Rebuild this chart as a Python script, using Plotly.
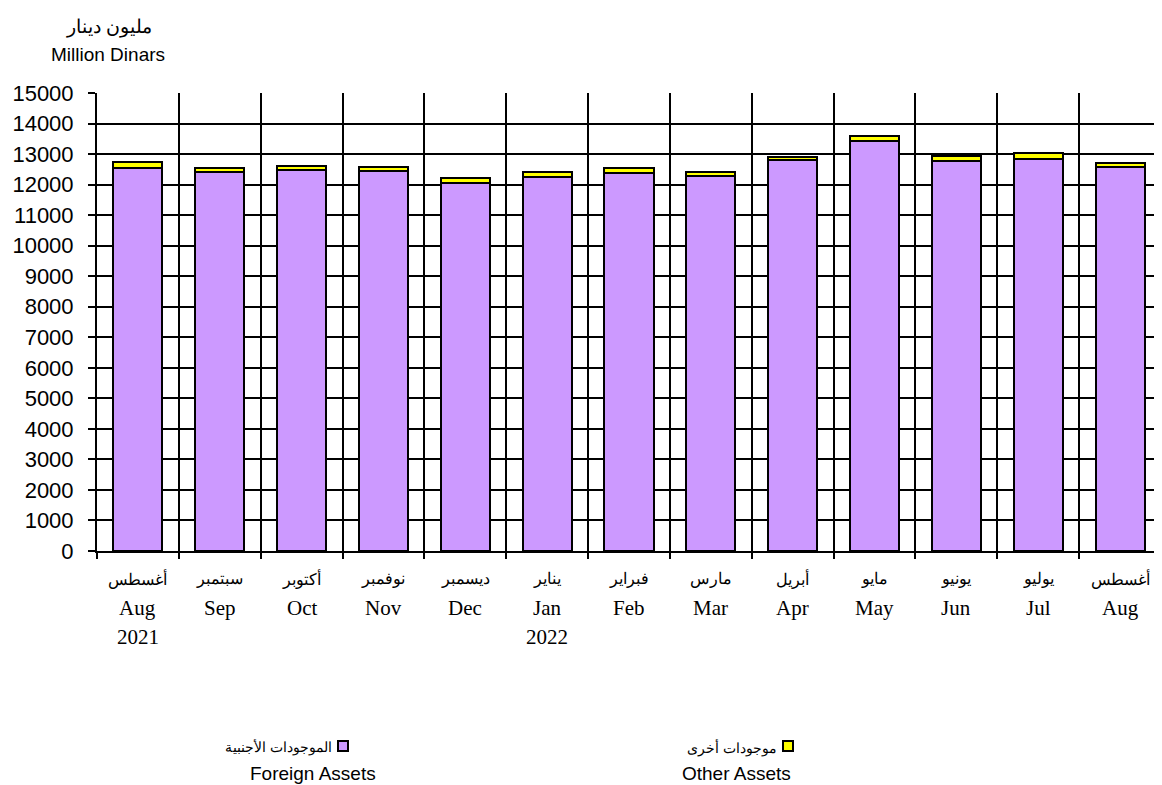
import plotly.graph_objects as go

months_ar = ["أغسطس", "سبتمبر", "أكتوبر", "نوفمبر", "ديسمبر", "يناير", "فبراير",
             "مارس", "أبريل", "مايو", "يونيو", "يوليو", "أغسطس"]
months_en = ["Aug", "Sep", "Oct", "Nov", "Dec", "Jan", "Feb",
             "Mar", "Apr", "May", "Jun", "Jul", "Aug"]
years = ["2021", "", "", "", "", "2022", "", "", "", "", "", "", ""]
cat_ids = ["Aug-2021", "Sep-2021", "Oct-2021", "Nov-2021", "Dec-2021", "Jan-2022", "Feb-2022",
           "Mar-2022", "Apr-2022", "May-2022", "Jun-2022", "Jul-2022", "Aug-2022"]

foreign_assets = [12560, 12420, 12490, 12440, 12050, 12260, 12390,
                  12290, 12790, 13440, 12780, 12840, 12580]
other_assets = [180, 140, 130, 140, 150, 160, 160,
                130, 110, 150, 150, 180, 140]

fig = go.Figure()
fig.add_trace(go.Bar(x=cat_ids, y=foreign_assets, name="Foreign Assets",
                     marker=dict(color="#CC99FF", line=dict(color="black", width=2))))
fig.add_trace(go.Bar(x=cat_ids, y=other_assets, name="Other Assets",
                     marker=dict(color="#FFFF00", line=dict(color="black", width=2))))

# page offset (body margin) compensation
OFF = 8
W, H = 1162 - OFF, 785 - OFF
L, R, T, B = 97 - OFF, 1, 93 - OFF, 777 - (551 - OFF)
pw, ph = W - L - R, H - T - B


def px(xp):
    return (xp - OFF - L) / pw


def py(yp):
    return (H - B - (yp - OFF)) / ph


AR_FONT = "Liberation Sans, Arial"
EN_SANS = "Liberation Sans, Arial"
EN_SERIF = "Liberation Serif, Times New Roman"
ann = []
for c, ar, en, yr in zip(cat_ids, months_ar, months_en, years):
    ann.append(dict(x=c, xref="x", y=0, yref="paper", yshift=-28, text=ar, showarrow=False,
                    xanchor="center", yanchor="middle",
                    font=dict(family=AR_FONT, size=16, color="black")))
    ann.append(dict(x=c, xref="x", y=0, yref="paper", yshift=-57, text=en, showarrow=False,
                    xanchor="center", yanchor="middle",
                    font=dict(family=EN_SERIF, size=21, color="black")))
    if yr:
        ann.append(dict(x=c, xref="x", y=0, yref="paper", yshift=-86, text=yr, showarrow=False,
                        xanchor="center", yanchor="middle",
                        font=dict(family=EN_SERIF, size=21, color="black")))

# unit title
ann.append(dict(x=px(109), y=py(27), xref="paper", yref="paper", text="مليون دينار", showarrow=False,
                xanchor="center", yanchor="middle",
                font=dict(family=AR_FONT, size=19, color="black")))
ann.append(dict(x=px(108), y=py(55), xref="paper", yref="paper", text="Million Dinars", showarrow=False,
                xanchor="center", yanchor="middle",
                font=dict(family=EN_SANS, size=19, color="black")))

# legend (manual)
legend_items = [
    ("الموجودات الأجنبية", "Foreign Assets", "#CC99FF", 343, 313),
    ("موجودات أخرى", "Other Assets", "#FFFF00", 788, 736),
]
shapes = []
for ar, en, col, sqx, cx in legend_items:
    shapes.append(dict(type="rect", xref="paper", yref="paper",
                       x0=px(sqx - 5), x1=px(sqx + 5), y0=py(751), y1=py(741),
                       fillcolor=col, line=dict(color="black", width=2)))
    ann.append(dict(x=px(sqx - 9), y=py(747), xref="paper", yref="paper", text=ar, showarrow=False,
                    xanchor="right", yanchor="middle",
                    font=dict(family=AR_FONT, size=14, color="black")))
    ann.append(dict(x=px(cx), y=py(773), xref="paper", yref="paper", text=en, showarrow=False,
                    xanchor="center", yanchor="middle",
                    font=dict(family=EN_SANS, size=19, color="black")))

fig.update_layout(
    barmode="stack",
    bargap=0.4,
    width=W, height=H,
    margin=dict(l=L, r=R, t=T, b=B),
    paper_bgcolor="white", plot_bgcolor="white",
    showlegend=False,
    annotations=ann,
    shapes=shapes,
    xaxis=dict(type="category", tickson="boundaries", showticklabels=False,
               showgrid=True, gridcolor="black", gridwidth=2,
               ticks="outside", ticklen=6, tickwidth=2, tickcolor="black",
               showline=True, linecolor="black", linewidth=2, range=[-0.5, 12.5]),
    yaxis=dict(range=[0, 15000], dtick=1000, tickformat="d", showgrid=True, gridcolor="black", gridwidth=2,
               ticks="outside", ticklen=7, tickwidth=2, tickcolor="black",
               showline=True, linecolor="black", linewidth=2, zeroline=False,
               ticklabelstandoff=10,
               tickfont=dict(family=EN_SANS, size=22, color="black")),
)

fig.write_html("out.html")
